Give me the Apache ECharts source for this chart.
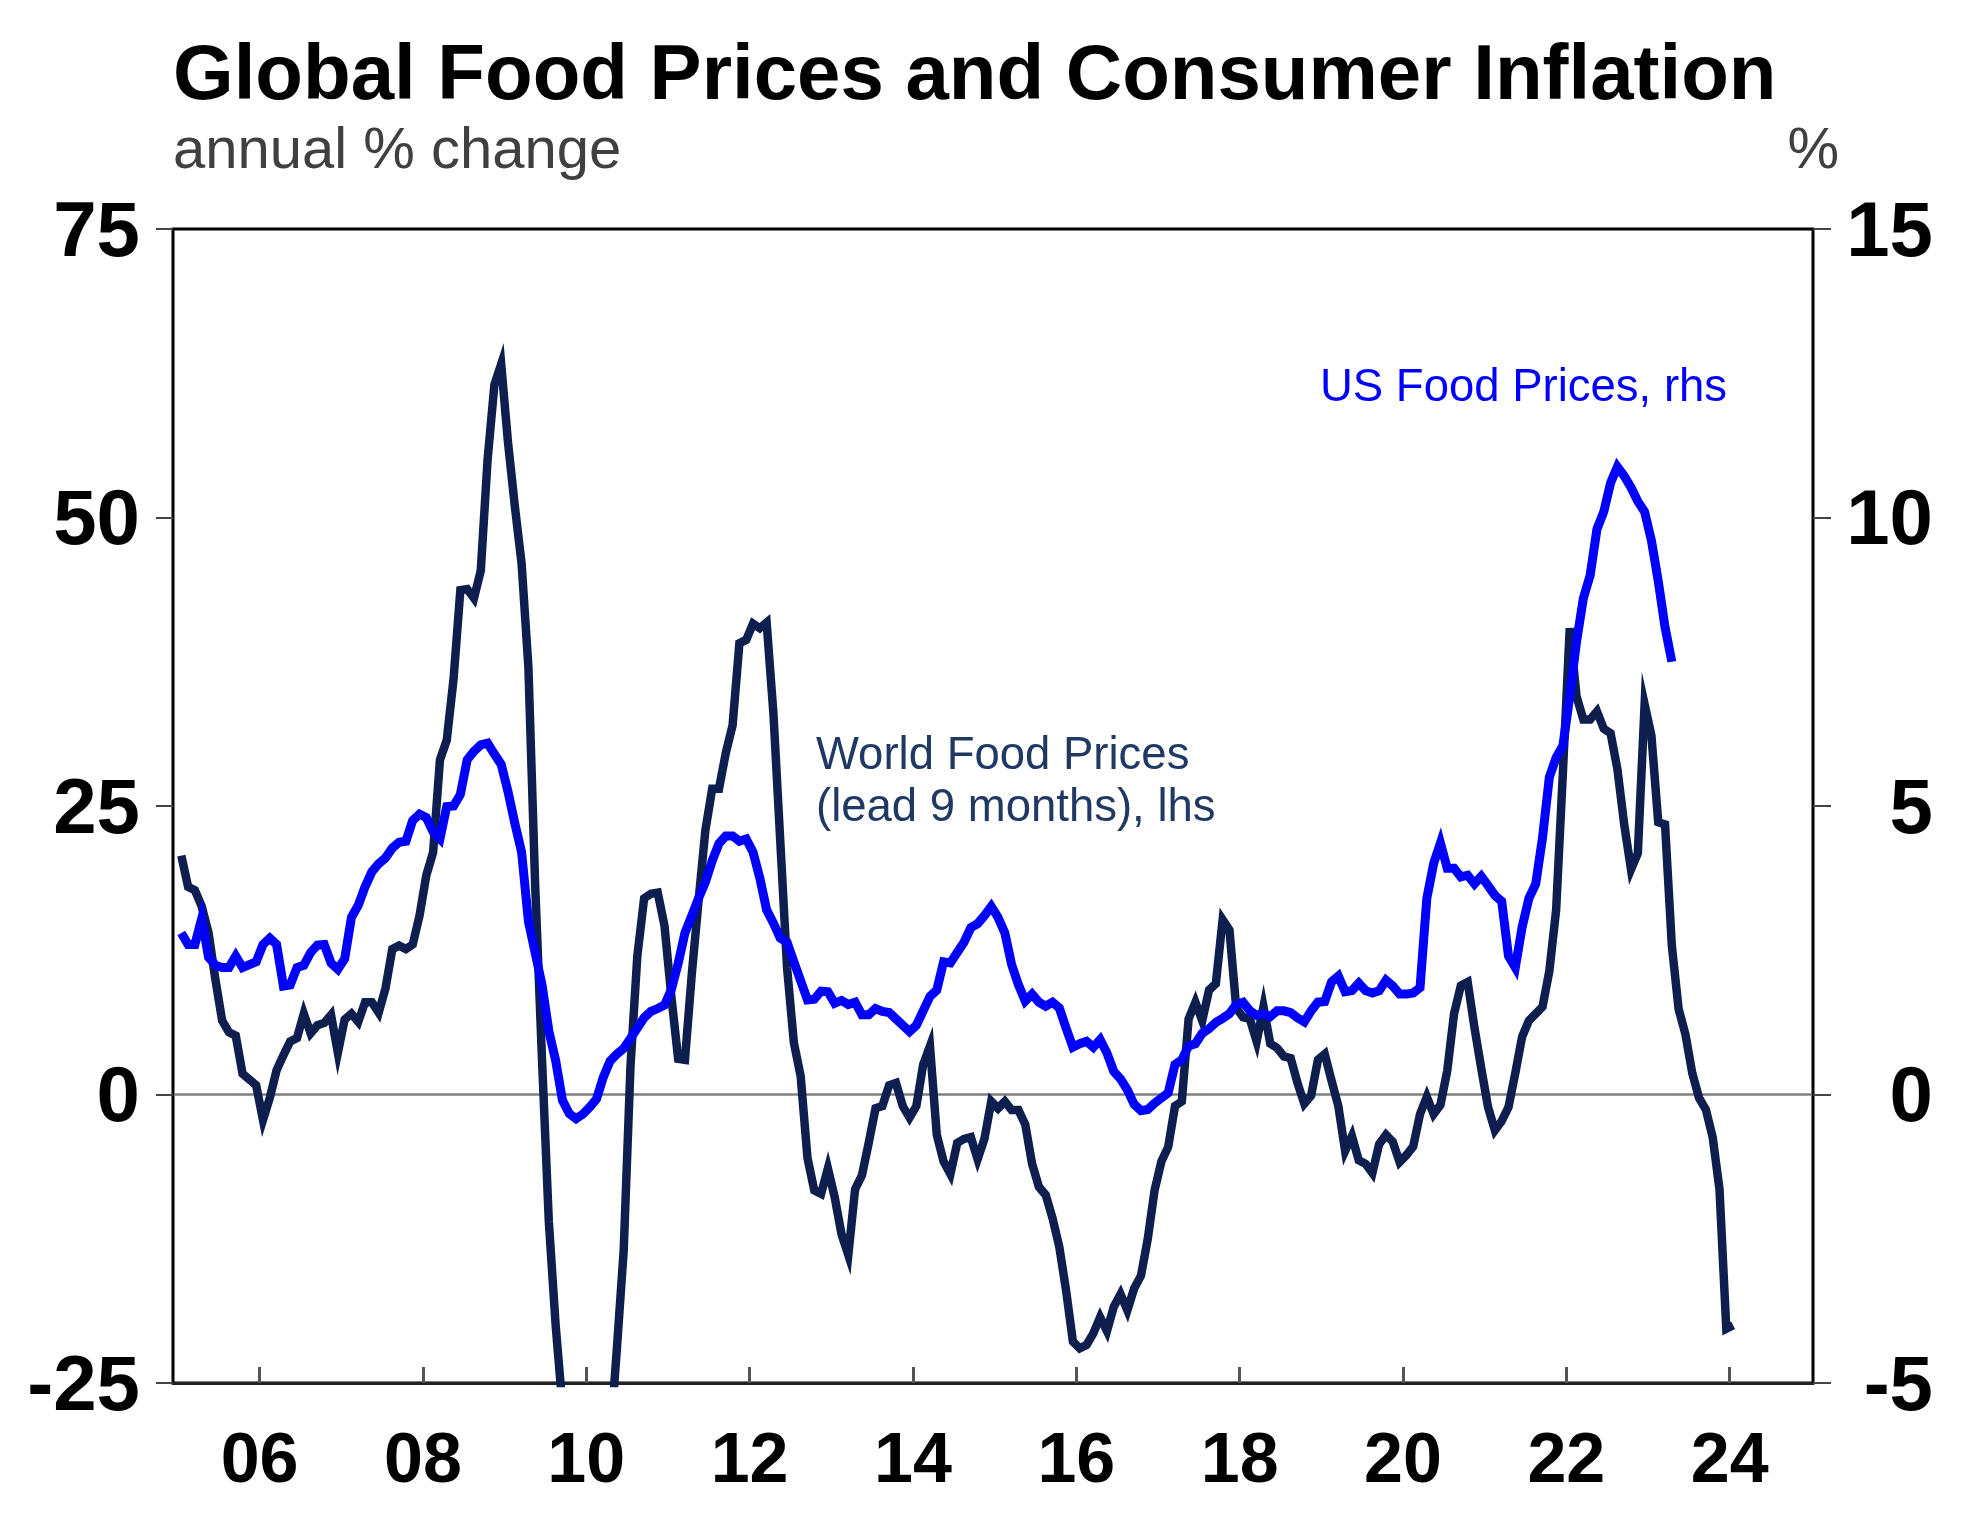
<!DOCTYPE html>
<html>
<head>
<meta charset="utf-8">
<script src="https://cdn.jsdelivr.net/npm/echarts@6/dist/echarts.min.js"></script>
<style>
  html, body { margin: 0; padding: 0; background: #fff; }
  #chart { width: 1962px; height: 1514px; }
</style>
</head>
<body>
<div id="chart"></div>
<script>
// ---------------- data ----------------
// monthly observations, first value = Jan 2005
const startYear = 2005;

// World Food Prices (lead 9 months), annual % change, lhs
const worldFood = [
  20.7, 18.0, 17.7, 16.3, 14.0, 10.0, 6.4, 5.4, 5.1, 1.8,
  1.3, 0.8, -2.2, -0.3, 2.1, 3.4, 4.6, 4.9, 7.0, 5.3,
  6.0, 6.2, 6.9, 3.6, 6.5, 7.0, 6.3, 8.0, 8.0, 7.1,
  9.2, 12.6, 12.9, 12.6, 13.0, 15.5, 19.0, 21.0, 29.0, 30.7,
  36.0, 43.7, 43.8, 43.0, 45.4, 55.0, 61.5, 63.3, 56.5, 51.0,
  46.0, 37.0, 18.0, 3.0, -11.0, -20.0, -27.0, -32.0, -35.0, -37.0,
  -37.0, -35.0, -32.0, -30.0, -22.0, -13.5, 2.5, 12.0, 17.0, 17.4,
  17.5, 14.6, 8.5, 3.1, 3.0, 10.4, 16.8, 22.9, 26.5, 26.5,
  29.6, 32.0, 39.1, 39.4, 40.8, 40.4, 40.9, 33.0, 22.0, 11.0,
  4.5, 1.6, -5.5, -8.3, -8.6, -6.4, -8.9, -12.1, -13.9, -8.2,
  -7.0, -4.2, -1.2, -1.0, 0.8, 1.0, -1.0, -2.0, -1.0, 2.6,
  4.2, -3.5, -5.8, -6.9, -4.2, -3.85, -3.7, -5.6, -3.85, -0.6,
  -1.2, -0.6, -1.35, -1.35, -2.6, -6.0, -8.0, -8.7, -10.7, -13.2,
  -17.0, -21.4, -22.0, -21.7, -20.7, -19.3, -20.5, -18.4, -17.3, -18.7,
  -16.8, -15.7, -12.5, -8.3, -5.8, -4.55, -1.0, -0.6, 6.55, 8.0,
  6.4, 9.05, 9.6, 15.15, 14.25, 7.5, 6.7, 6.55, 4.6, 7.6,
  4.4, 4.04, 3.3, 3.15, 1.0, -0.8, -0.1, 3.0, 3.5, 1.2,
  -1.0, -4.9, -3.6, -5.7, -6.0, -6.8, -4.3, -3.5, -4.1, -5.85,
  -5.25, -4.5, -1.7, -0.2, -1.7, -0.9, 2.05, 7.0, 9.44, 9.75,
  5.8, 2.25, -1.1, -3.1, -2.3, -1.1, 1.85, 5.0, 6.4, 7.0,
  7.6, 10.7, 16.0, 28.0, 40.4, 34.5, 32.5, 32.5, 33.2, 31.7,
  31.3, 28.2, 23.4, 19.5, 20.9, 33.8, 31.1, 23.6, 23.4, 12.9,
  7.4, 5.2, 1.85, -0.3, -1.3, -3.7, -8.2, -20.3, -20.0
];

// US Food Prices, annual % change, rhs
const usFood = [
  2.8, 2.6, 2.6, 3.05, 2.38, 2.24, 2.2, 2.2, 2.4, 2.2,
  2.25, 2.3, 2.6, 2.71, 2.6, 1.88, 1.9, 2.2, 2.24, 2.46,
  2.59, 2.6, 2.28, 2.17, 2.35, 3.07, 3.28, 3.6, 3.86, 4.0,
  4.1, 4.27, 4.37, 4.39, 4.75, 4.86, 4.8, 4.55, 4.43, 4.99,
  5.0, 5.2, 5.8, 5.95, 6.06, 6.09, 5.9, 5.72, 5.25, 4.7,
  4.2, 3.0, 2.45, 1.9, 1.1, 0.59, -0.1, -0.33, -0.42, -0.34,
  -0.22, -0.08, 0.3, 0.58, 0.7, 0.8, 0.97, 1.15, 1.33, 1.44,
  1.49, 1.55, 1.82, 2.27, 2.8, 3.1, 3.4, 3.68, 4.05, 4.35,
  4.48, 4.48, 4.39, 4.43, 4.2, 3.75, 3.2, 2.97, 2.71, 2.64,
  2.3, 1.97, 1.64, 1.65, 1.79, 1.78, 1.58, 1.63, 1.56, 1.6,
  1.38, 1.38, 1.49, 1.44, 1.42, 1.31, 1.2, 1.09, 1.2, 1.45,
  1.7, 1.81, 2.3, 2.28, 2.46, 2.64, 2.89, 2.96, 3.1, 3.26,
  3.07, 2.8, 2.25, 1.9, 1.62, 1.74, 1.6, 1.53, 1.6, 1.5,
  1.15, 0.82, 0.88, 0.92, 0.82, 0.95, 0.72, 0.4, 0.27, 0.08,
  -0.17, -0.28, -0.26, -0.15, -0.06, 0.03, 0.52, 0.6, 0.84, 0.88,
  1.06, 1.14, 1.25, 1.32, 1.4, 1.56, 1.6, 1.45, 1.37, 1.4,
  1.35, 1.45, 1.45, 1.42, 1.33, 1.26, 1.45, 1.6, 1.61, 1.95,
  2.05, 1.78, 1.8, 1.93, 1.8, 1.76, 1.8, 1.98, 1.88, 1.74,
  1.74, 1.76, 1.85, 3.4, 4.0, 4.36, 3.92, 3.92, 3.77, 3.8,
  3.65, 3.78, 3.62, 3.45, 3.35, 2.4, 2.2, 2.9, 3.4, 3.65,
  4.45, 5.5, 5.84, 6.05, 6.9, 7.85, 8.6, 9.0, 9.8, 10.1,
  10.6, 10.88, 10.72, 10.52, 10.28, 10.1, 9.6, 8.9, 8.1, 7.5
];

// axis ticks / labels
const xTickYears = [2006, 2008, 2010, 2012, 2014, 2016, 2018, 2020, 2022, 2024];
const leftTicks = { min: -25, max: 75, interval: 25 };
const rightTicks = { min: -5, max: 15, interval: 5 };

// text
const titleText = 'Global Food Prices and Consumer Inflation';
const subtitleText = 'annual % change';
const rightUnitText = '%';
const worldLabel = ['World Food Prices', '(lead 9 months), lhs'];
const usLabel = 'US Food Prices, rhs';

// ---------------- chart ----------------
const FONT = '"Liberation Sans", Arial, Helvetica, sans-serif';
const NAVY = '#0e1f4f';
const NAVY_TEXT = '#1f3864';
const BLUE = '#0000ff';

const toPairs = arr => arr.map((v, i) => [startYear + (i + 0.5) / 12, v]);

const chart = echarts.init(document.getElementById('chart'), null, { renderer: 'canvas' });

const option = {
  animation: false,
  backgroundColor: '#ffffff',
  textStyle: { fontFamily: FONT },
  grid: {
    left: 173, top: 229, right: 149, bottom: 131,
    show: true, borderColor: '#000', borderWidth: 3, backgroundColor: 'transparent'
  },
  xAxis: {
    type: 'value',
    min: 2004.94,
    max: 2025.02,
    splitLine: { show: false },
    axisLine: { onZero: false, lineStyle: { color: '#222', width: 3 } },
    axisTick: {
      inside: true, length: 16, customValues: xTickYears,
      lineStyle: { color: '#555', width: 3 }
    },
    axisLabel: {
      customValues: xTickYears,
      formatter: v => String(Math.round(v) % 100).padStart(2, '0'),
      fontSize: 70, fontWeight: 'bold', color: '#000', fontFamily: FONT, margin: 45
    }
  },
  yAxis: [
    {
      type: 'value', position: 'left',
      min: leftTicks.min, max: leftTicks.max, interval: leftTicks.interval,
      axisLine: { show: true, onZero: false, lineStyle: { color: '#000', width: 2 } },
      axisTick: { show: true, length: 17, lineStyle: { color: '#444', width: 2 } },
      axisLabel: {
        fontSize: 78, fontWeight: 'bold', color: '#000', fontFamily: FONT,
        margin: 33, verticalAlign: 'top', lineHeight: 10
      },
      splitLine: {
        show: true,
        lineStyle: { color: ['rgba(0,0,0,0)', '#808080', 'rgba(0,0,0,0)', 'rgba(0,0,0,0)', 'rgba(0,0,0,0)'], width: 2.5 }
      }
    },
    {
      type: 'value', position: 'right',
      min: rightTicks.min, max: rightTicks.max, interval: rightTicks.interval,
      axisLine: { show: true, onZero: false, lineStyle: { color: '#000', width: 2 } },
      axisTick: { show: true, length: 18, lineStyle: { color: '#444', width: 2 } },
      axisLabel: {
        fontSize: 78, fontWeight: 'bold', color: '#000', fontFamily: FONT,
        margin: 120, align: 'right', verticalAlign: 'top', lineHeight: 10
      },
      splitLine: { show: false }
    }
  ],
  series: [
    {
      name: 'World Food Prices (lead 9 months), lhs',
      type: 'line', yAxisIndex: 0, clip: true,
      data: toPairs(worldFood),
      showSymbol: false, symbol: 'none',
      lineStyle: { color: NAVY, width: 8.5, join: 'miter' },
      z: 2
    },
    {
      name: 'US Food Prices, rhs',
      type: 'line', yAxisIndex: 1, clip: true,
      data: toPairs(usFood),
      showSymbol: false, symbol: 'none',
      lineStyle: { color: BLUE, width: 9, join: 'miter' },
      z: 3
    }
  ],
  graphic: [
    { type: 'text', x: 173, y: 77, style: { text: titleText, fill: '#000', fontSize: 78, fontWeight: 'bold', fontFamily: FONT, align: 'left', verticalAlign: 'middle' } },
    { type: 'text', x: 173, y: 152, style: { text: subtitleText, fill: '#404040', fontSize: 58, fontFamily: FONT, align: 'left', verticalAlign: 'middle' } },
    { type: 'text', x: 1839, y: 152, style: { text: rightUnitText, fill: '#404040', fontSize: 58, fontFamily: FONT, align: 'right', verticalAlign: 'middle' } },
    { type: 'text', x: 816, y: 756, style: { text: worldLabel[0], fill: NAVY_TEXT, fontSize: 45.5, fontFamily: FONT, align: 'left', verticalAlign: 'middle' } },
    { type: 'text', x: 816, y: 808, style: { text: worldLabel[1], fill: NAVY_TEXT, fontSize: 45.5, fontFamily: FONT, align: 'left', verticalAlign: 'middle' } },
    { type: 'text', x: 1320, y: 388, style: { text: usLabel, fill: BLUE, fontSize: 45.5, fontFamily: FONT, align: 'left', verticalAlign: 'middle' } }
  ]
};

chart.setOption(option);
</script>
</body>
</html>
